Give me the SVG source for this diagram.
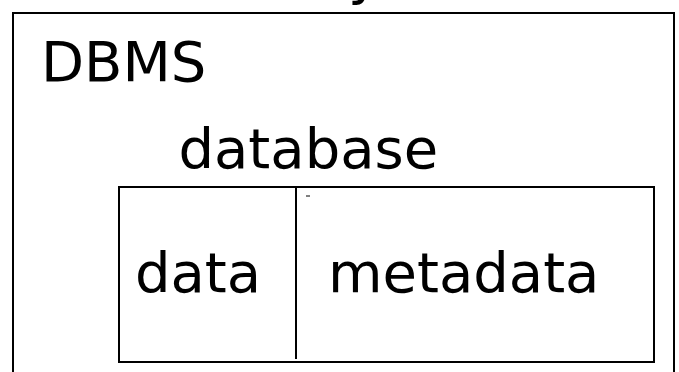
<svg xmlns="http://www.w3.org/2000/svg" width="679" height="372" viewBox="0 0 679 372">
<style>
.box{fill:none;stroke:#000;stroke-width:2}
.lbl{font-family:"DejaVu Sans",sans-serif;font-size:56px;fill:#000}
</style>
<rect width="679" height="372" fill="#fff"/>
<g id="top-label"><text class="lbl" x="348" y="-7">y</text></g>
<g id="dbms">
<rect class="box" x="13" y="13" width="661" height="400"/>
<text class="lbl" x="41" y="81">DBMS</text>
</g>
<g id="database">
<text class="lbl" x="178.5" y="168">database</text>
<rect class="box" x="119" y="187" width="535" height="175"/>
</g>
<g id="data"><text class="lbl" x="135" y="292">data</text></g>
<g id="metadata">
<text class="lbl" x="328" y="292">metadata</text>
<line x1="306" y1="196" x2="310" y2="196" stroke="#000" stroke-width="1"/>
</g>
<g id="connectors">
<line x1="296" y1="187" x2="296" y2="359" stroke="#000" stroke-width="2"/>
</g>
</svg>
